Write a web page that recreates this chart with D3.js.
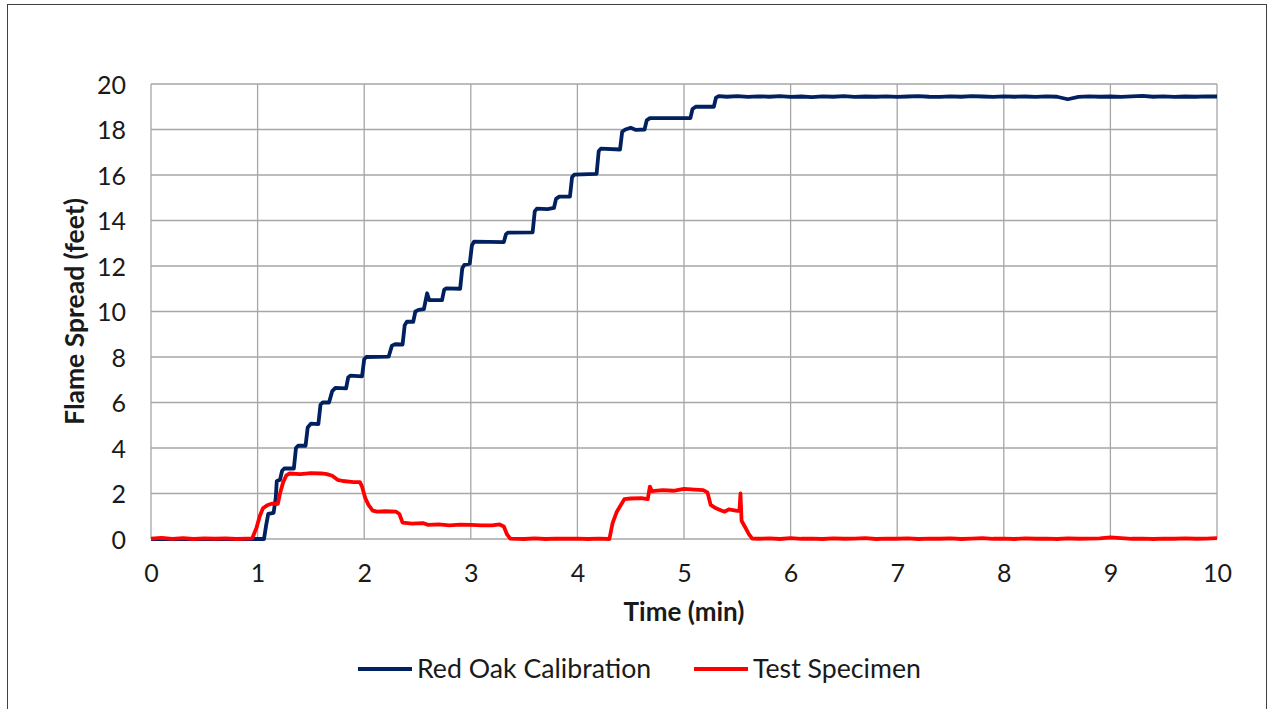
<!DOCTYPE html>
<html>
<head>
<meta charset="utf-8">
<script src="https://cdn.jsdelivr.net/npm/d3@7"></script>
<style>
  html, body { margin: 0; padding: 0; background: #fff; }
  svg { display: block; font-family: Lato, "Open Sans", sans-serif; }
</style>
</head>
<body>
<svg id="chart"></svg>
<script>
// Flame spread readings (time in min, spread in feet)
const redOakTime = [0, 1.06, 1.08, 1.10, 1.15, 1.17, 1.18, 1.21, 1.23, 1.25, 1.34, 1.36, 1.38, 1.45, 1.47, 1.50, 1.57, 1.59, 1.61, 1.67, 1.70, 1.73, 1.83, 1.85, 1.87, 1.98, 2.00, 2.02, 2.23, 2.26, 2.29, 2.36, 2.38, 2.40, 2.46, 2.48, 2.51, 2.56, 2.59, 2.61, 2.73, 2.75, 2.77, 2.90, 2.92, 2.94, 2.99, 3.01, 3.03, 3.31, 3.33, 3.35, 3.58, 3.60, 3.62, 3.72, 3.78, 3.80, 3.83, 3.93, 3.95, 3.97, 4.18, 4.20, 4.22, 4.40, 4.42, 4.45, 4.50, 4.55, 4.63, 4.65, 4.68, 5.06, 5.08, 5.11, 5.28, 5.30, 5.33,
    5.4, 5.5, 5.6, 5.7, 5.8, 5.9, 6.0, 6.1, 6.2, 6.3, 6.4, 6.5, 6.6, 6.7, 6.8, 6.9, 7.0, 7.1, 7.2, 7.3, 7.4, 7.5, 7.6, 7.7, 7.8, 7.9, 8.0, 8.1, 8.2, 8.3, 8.4, 8.5, 8.6, 8.7, 8.8, 8.9, 9.0, 9.1, 9.2, 9.3, 9.4, 9.5, 9.6, 9.7, 9.8, 9.9, 10];
const redOakSpread = [0, 0, 0.6, 1.1, 1.15, 1.8, 2.55, 2.6, 3.0, 3.1, 3.1, 4.0, 4.1, 4.1, 4.9, 5.07, 5.05, 5.9, 6.0, 6.0, 6.5, 6.64, 6.62, 7.1, 7.18, 7.15, 7.9, 8.0, 8.02, 8.5, 8.56, 8.55, 9.4, 9.55, 9.55, 10.0, 10.07, 10.1, 10.8, 10.5, 10.5, 10.95, 11.02, 11.0, 11.9, 12.05, 12.1, 12.9, 13.07, 13.05, 13.4, 13.47, 13.48, 14.4, 14.52, 14.5, 14.55, 14.95, 15.05, 15.05, 15.9, 16.02, 16.05, 17.05, 17.16, 17.12, 17.9, 18.0, 18.08, 17.98, 18.0, 18.4, 18.5, 18.5, 18.9, 19.0, 19.0, 19.4, 19.47,
    19.44, 19.47, 19.43, 19.46, 19.44, 19.47, 19.43, 19.45, 19.42, 19.46, 19.44, 19.47, 19.43, 19.45, 19.44, 19.46, 19.43, 19.45, 19.47, 19.44, 19.43, 19.46, 19.44, 19.47, 19.45, 19.43, 19.46, 19.44, 19.45, 19.43, 19.46, 19.44, 19.33, 19.43, 19.46, 19.44, 19.45, 19.43, 19.46, 19.48, 19.44, 19.46, 19.43, 19.45, 19.44, 19.46, 19.45];

const specimenTime = [0, 0.1, 0.2, 0.3, 0.4, 0.5, 0.6, 0.7, 0.8, 0.9, 0.95, 0.99, 1.02, 1.05, 1.09, 1.13, 1.19, 1.21, 1.24, 1.27, 1.30, 1.40, 1.50, 1.60, 1.65, 1.70, 1.75, 1.80, 1.90, 1.96, 1.98, 2.01, 2.04, 2.08, 2.12, 2.20, 2.30, 2.33, 2.36, 2.45, 2.55, 2.60, 2.70, 2.80, 2.90, 3.00, 3.10, 3.20, 3.27, 3.31, 3.34, 3.37, 3.50, 3.60, 3.70, 3.80, 3.90, 4.00, 4.10, 4.20, 4.30, 4.33, 4.37, 4.44, 4.50, 4.60, 4.66, 4.68, 4.70, 4.80, 4.90, 5.00, 5.10, 5.18, 5.22, 5.25, 5.30, 5.35, 5.38, 5.42, 5.50, 5.52, 5.53, 5.54, 5.57, 5.61, 5.64,
    5.7, 5.8, 5.9, 6.0, 6.1, 6.2, 6.3, 6.4, 6.5, 6.6, 6.7, 6.8, 6.9, 7.0, 7.1, 7.2, 7.3, 7.4, 7.5, 7.6, 7.7, 7.8, 7.9, 8.0, 8.1, 8.2, 8.3, 8.4, 8.5, 8.6, 8.7, 8.8, 8.9, 9.0, 9.1, 9.2, 9.3, 9.4, 9.5, 9.6, 9.7, 9.8, 9.9, 10];
const specimenSpread = [0.02, 0.05, 0.01, 0.04, 0.0, 0.03, 0.01, 0.03, 0.0, 0.02, 0.03, 0.5, 1.0, 1.35, 1.48, 1.55, 1.55, 2.0, 2.5, 2.8, 2.88, 2.85, 2.9, 2.88, 2.85, 2.78, 2.6, 2.55, 2.5, 2.5, 2.3, 1.8, 1.5, 1.25, 1.2, 1.22, 1.2, 1.1, 0.72, 0.68, 0.7, 0.62, 0.64, 0.6, 0.63, 0.62, 0.6, 0.6, 0.64, 0.55, 0.2, 0.02, 0.0, 0.03, 0.0, 0.02, 0.01, 0.02, 0.0, 0.02, 0.0, 0.7, 1.2, 1.75, 1.78, 1.8, 1.75, 2.3, 2.1, 2.15, 2.12, 2.2, 2.17, 2.15, 2.05, 1.5, 1.35, 1.25, 1.2, 1.3, 1.24, 1.25, 2.0, 0.8, 0.55, 0.2, 0.02,
    0.01, 0.03, 0.0, 0.04, 0.01, 0.02, 0.0, 0.03, 0.01, 0.02, 0.04, 0.0, 0.02, 0.01, 0.03, 0.0, 0.02, 0.01, 0.03, 0.0, 0.02, 0.04, 0.01, 0.02, 0.0, 0.03, 0.01, 0.02, 0.0, 0.03, 0.01, 0.02, 0.03, 0.07, 0.04, 0.01, 0.02, 0.0, 0.02, 0.01, 0.03, 0.01, 0.02, 0.04];

const xTicks = [0, 1, 2, 3, 4, 5, 6, 7, 8, 9, 10];
const yTicks = [0, 2, 4, 6, 8, 10, 12, 14, 16, 18, 20];

const seriesNames = ["Red Oak Calibration", "Test Specimen"];
const seriesColors = ["#002060", "#FF0000"];

const width = 1269;
const height = 709;

const svg = d3.select("#chart")
    .attr("width", width)
    .attr("height", height);

svg.append("rect")
    .attr("width", width)
    .attr("height", height)
    .attr("fill", "#fff");

// marco exterior
svg.append("rect")
    .attr("x", 7.5)
    .attr("y", 4.5)
    .attr("width", 1259)
    .attr("height", 720)
    .attr("fill", "none")
    .attr("stroke", "#404040")
    .attr("stroke-width", 1);

const x = d3.scaleLinear().domain([0, 10]).range([151, 1217]);
const y = d3.scaleLinear().domain([0, 20]).range([539, 84]);

// rejilla
const grid = svg.append("g");
grid.selectAll("line.v")
    .data(xTicks)
    .enter().append("line")
    .attr("class", "v")
    .attr("x1", d => x(d)).attr("x2", d => x(d))
    .attr("y1", y(0)).attr("y2", y(20))
    .attr("stroke", "#A6A6A6")
    .attr("stroke-width", 1.3);
grid.selectAll("line.h")
    .data(yTicks)
    .enter().append("line")
    .attr("class", "h")
    .attr("x1", x(0)).attr("x2", x(10))
    .attr("y1", d => y(d)).attr("y2", d => y(d))
    .attr("stroke", "#A6A6A6")
    .attr("stroke-width", 1.3);

// ejes
const xAxis = svg.append("g")
    .attr("transform", `translate(0, 582)`)
    .call(d3.axisBottom(x).tickValues(xTicks).tickSize(0).tickPadding(0));
xAxis.select(".domain").remove();
xAxis.selectAll("text")
    .attr("dy", 0)
    .attr("font-size", 25)
    .attr("font-family", "Lato")
    .attr("fill", "#1a1a1a");

const yAxis = svg.append("g")
    .attr("transform", `translate(126, 0)`)
    .call(d3.axisLeft(y).tickValues(yTicks).tickSize(0).tickPadding(0));
yAxis.select(".domain").remove();
yAxis.selectAll("text")
    .attr("dy", "0.36em")
    .attr("font-size", 25)
    .attr("font-family", "Lato")
    .attr("fill", "#1a1a1a");

// títulos de ejes
svg.append("text")
    .attr("x", 684)
    .attr("y", 621)
    .attr("text-anchor", "middle")
    .attr("font-size", 26)
    .attr("font-weight", "bold")
    .attr("fill", "#1a1a1a")
    .text("Time (min)");

svg.append("text")
    .attr("transform", "translate(84, 311.5) rotate(-90)")
    .attr("text-anchor", "middle")
    .attr("font-size", 26.5)
    .attr("font-weight", "bold")
    .attr("fill", "#1a1a1a")
    .text("Flame Spread (feet)");

// líneas de datos
const line = d3.line()
    .x(d => x(d[0]))
    .y(d => y(d[1]));

const series = [
    d3.zip(redOakTime, redOakSpread),
    d3.zip(specimenTime, specimenSpread)
];

svg.append("g")
    .selectAll("path")
    .data(series)
    .enter().append("path")
    .attr("d", line)
    .attr("fill", "none")
    .attr("stroke", (d, i) => seriesColors[i])
    .attr("stroke-width", 3.8)
    .attr("stroke-linejoin", "round");

// leyenda
const legendX = [358, 694];
const legend = svg.append("g");
legend.selectAll("line")
    .data(seriesNames)
    .enter().append("line")
    .attr("x1", (d, i) => legendX[i])
    .attr("x2", (d, i) => legendX[i] + 54)
    .attr("y1", 669).attr("y2", 669)
    .attr("stroke", (d, i) => seriesColors[i])
    .attr("stroke-width", 4);
legend.selectAll("text")
    .data(seriesNames)
    .enter().append("text")
    .attr("x", (d, i) => legendX[i] + 59)
    .attr("y", 678)
    .attr("font-size", 26.7)
    .attr("fill", "#1a1a1a")
    .text(d => d);
</script>
</body>
</html>
